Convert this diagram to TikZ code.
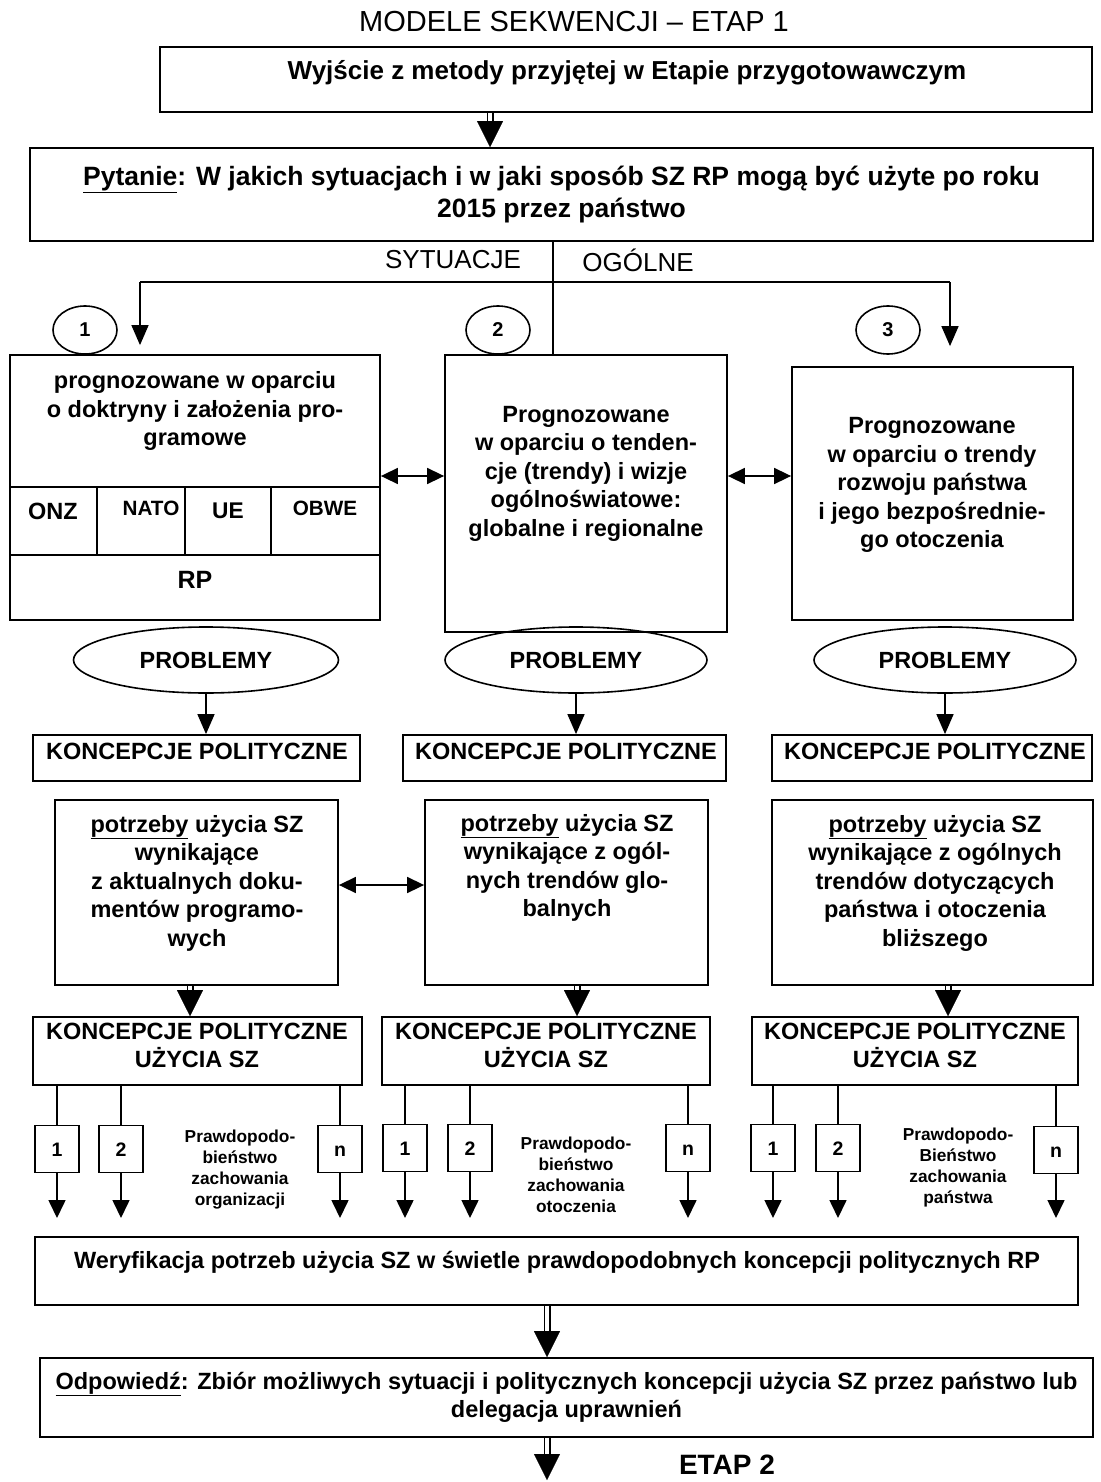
\documentclass[tikz,border=0pt]{standalone}
\usepackage{fontspec}
\setmainfont{Liberation Sans}
\usetikzlibrary{arrows.meta,shapes.geometric,calc}
\newcommand\fs[2]{\fontsize{#1}{#2}\selectfont}
\newcommand\dblarrow[2]{%
  \draw[line width=1.5pt, double, double distance=4pt] (#1) -- ($(#2)+(0,-22)$);
  \draw[-{Triangle[length=26pt,width=26pt]}, line width=0.1pt] ($(#2)+(0,-26)$) -- (#2);
}
\begin{document}
\begin{tikzpicture}[x=1pt,y=-1pt,
  box/.style={draw, line width=1.8pt, inner sep=0pt, anchor=center},
  txt/.style={align=center, inner sep=0pt, font=\bfseries\fs{23.5}{28.5}},
  ln/.style={line width=1.6pt},
  arr/.style={line width=1.6pt, -{Triangle[length=20pt,width=17pt]}},
  arrs/.style={line width=1.6pt, -{Triangle[length=18pt,width=17pt]}},
  lr/.style={line width=1.6pt, {Triangle[length=17pt,width=16pt]}-{Triangle[length=17pt,width=16pt]}},
  sbox/.style={draw, line width=1.6pt, inner sep=0pt, minimum width=44, minimum height=47, text height=14pt, text depth=0pt, font=\bfseries\fs{19.5}{20}},
  ell/.style={draw, ellipse, line width=1.6pt, inner sep=0pt},
  prob/.style={align=center, inner sep=0pt, font=\bfseries\fs{17.3}{21}}
]
\useasboundingbox (0,0) rectangle (1100,1482);
\fill[white] (0,0) rectangle (1100,1482);

% title
\node[font=\fs{29}{34}] (title) at (574,22) {MODELE SEKWENCJI – ETAP 1};

% top box
\node[box, minimum width=932, minimum height=65] (A) at (626,79.5) {};
\node[txt, font=\bfseries\fs{26}{30}] (At) at (627,73) {Wyjście z metody przyjętej w Etapie przygotowawczym};

\node[box, txt, font=\bfseries\fs{26.5}{32}, minimum width=1063, minimum height=93] (B) at (561.5,194.5)
  {\underline{Pytanie}: W jakich sytuacjach i w jaki sposób SZ RP mogą być użyte po roku\\2015 przez państwo};

\coordinate (xa) at (490,0);
\dblarrow{A.south -| xa}{B.north -| xa}

\node[font=\fs{26}{30}] (syt) at (453,260) {SYTUACJE};
\node[font=\fs{26}{30}] (og) at (638,260) {OGÓLNE};

% three forecast boxes
\node[box, minimum width=370, minimum height=265] (P1) at (195,487.5) {};
\node[box, minimum width=282, minimum height=277] (P2) at (586,493.5) {};
\node[box, minimum width=281, minimum height=253] (P3) at (932.5,493.5) {};

\coordinate (hub) at (553,282);
\coordinate (hl) at (140,282);
\coordinate (hr) at (950,282);
\draw[ln] (B.south -| hub) -- (P2.north -| hub);
\draw[ln] (hl) -- (hr);
\draw[arr, shorten >=9pt] (hl) -- (P1.north -| hl);
\draw[arr, shorten >=20pt] (hr) -- (P3.north -| hr);

\node[ell, minimum width=64, minimum height=48, font=\bfseries\fs{20}{22}] (c1) at (85,330) {1};
\node[ell, minimum width=64, minimum height=48, font=\bfseries\fs{20}{22}] (c2) at (498,330) {2};
\node[ell, minimum width=64, minimum height=48, font=\bfseries\fs{20}{22}] (c3) at (888,330) {3};

% box 1 content
\coordinate (r1) at (0,487);
\coordinate (r2) at (0,555);
\coordinate (v1) at (97,0);
\coordinate (v2) at (185,0);
\coordinate (v3) at (271,0);
\draw[ln] (P1.west |- r1) -- (P1.east |- r1);
\draw[ln] (P1.west |- r2) -- (P1.east |- r2);
\draw[ln] (v1 |- r1) -- (v1 |- r2);
\draw[ln] (v2 |- r1) -- (v2 |- r2);
\draw[ln] (v3 |- r1) -- (v3 |- r2);
\node[txt] (P1t) at (195,411) {prognozowane w oparciu\\o doktryny i założenia pro-\\gramowe};
\node[font=\bfseries\fs{23.5}{24}] (onz) at (53,511) {ONZ};
\node[font=\bfseries\fs{20.7}{22}] (nato) at (151,508) {NATO};
\node[font=\bfseries\fs{22.7}{24}] (ue) at (228,511) {UE};
\node[font=\bfseries\fs{20.7}{22}] (obwe) at (325,508) {OBWE};
\node[font=\bfseries\fs{25}{28}] (rp) at (195,580) {RP};

\node[txt] (P2t) at (586,473.5) {Prognozowane\\w oparciu o tenden-\\cje (trendy) i wizje\\ogólnoświatowe:\\globalne i regionalne};
\node[txt] (P3t) at (932,485) {Prognozowane\\w oparciu o trendy\\rozwoju państwa\\i jego bezpośrednie-\\go otoczenia};

\coordinate (y476) at (0,476);
\draw[lr] (P1.east |- y476) -- (P2.west |- y476);
\draw[lr] (P2.east |- y476) -- (P3.west |- y476);

% problems
\node[ell, minimum width=265, minimum height=66, font=\bfseries\fs{23.4}{24}] (E1) at (206,660) {PROBLEMY};
\node[ell, minimum width=262, minimum height=66, font=\bfseries\fs{23.4}{24}] (E2) at (576,660) {PROBLEMY};
\node[ell, minimum width=262, minimum height=66, font=\bfseries\fs{23.4}{24}] (E3) at (945,660) {PROBLEMY};

\node[box, minimum width=327, minimum height=46] (K1) at (196.5,758) {};
\node[box, minimum width=323, minimum height=46] (K2) at (564.5,758) {};
\node[box, minimum width=320, minimum height=46] (K3) at (932,758) {};
\node[txt] (K1t) at (197,751) {KONCEPCJE POLITYCZNE};
\node[txt] (K2t) at (566,751) {KONCEPCJE POLITYCZNE};
\node[txt] (K3t) at (935,751) {KONCEPCJE POLITYCZNE};

\draw[arr] (E1.south) -- (K1.north -| E1.south);
\draw[arr] (E2.south) -- (K2.north -| E2.south);
\draw[arr] (E3.south) -- (K3.north -| E3.south);

% needs
\node[box, minimum width=283, minimum height=185] (N1) at (196.5,892.5) {};
\node[box, minimum width=283, minimum height=185] (N2) at (566.5,892.5) {};
\node[box, minimum width=321, minimum height=185] (N3) at (932.5,892.5) {};
\node[txt] (N1t) at (197,883) {\underline{potrzeby} użycia SZ\\wynikające\\z aktualnych doku-\\mentów programo-\\wych};
\node[txt] (N2t) at (567,868) {\underline{potrzeby} użycia SZ\\wynikające z ogól-\\nych trendów glo-\\balnych};
\node[txt] (N3t) at (935,883) {\underline{potrzeby} użycia SZ\\wynikające z ogólnych\\trendów dotyczących\\państwa i otoczenia\\bliższego};

\coordinate (y885) at (0,885);
\draw[lr] (N1.east |- y885) -- (N2.west |- y885);

% political concepts of use
\node[box, minimum width=329, minimum height=68] (U1) at (197.5,1051) {};
\node[box, minimum width=328, minimum height=68] (U2) at (546,1051) {};
\node[box, minimum width=326, minimum height=68] (U3) at (915,1051) {};
\node[txt] (U1t) at (197,1045.5) {KONCEPCJE POLITYCZNE\\UŻYCIA SZ};
\node[txt] (U2t) at (546,1045.5) {KONCEPCJE POLITYCZNE\\UŻYCIA SZ};
\node[txt] (U3t) at (915,1045.5) {KONCEPCJE POLITYCZNE\\UŻYCIA SZ};

\coordinate (xn1) at (190,0);
\coordinate (xn2) at (577,0);
\coordinate (xn3) at (948,0);
\dblarrow{N1.south -| xn1}{U1.north -| xn1}
\dblarrow{N2.south -| xn2}{U2.north -| xn2}
\dblarrow{N3.south -| xn3}{U3.north -| xn3}

% small boxes
\node[sbox] (s11) at (57,1149) {1};
\node[sbox] (s12) at (121,1149) {2};
\node[sbox] (s1n) at (340,1149) {n};
\node[sbox] (s21) at (405,1148) {1};
\node[sbox] (s22) at (470,1148) {2};
\node[sbox] (s2n) at (688,1148) {n};
\node[sbox] (s31) at (773,1148) {1};
\node[sbox] (s32) at (838,1148) {2};
\node[sbox] (s3n) at (1056,1150) {n};

\foreach \s/\u in {s11/U1,s12/U1,s1n/U1,s21/U2,s22/U2,s2n/U2,s31/U3,s32/U3,s3n/U3}{
  \draw[ln] (\u.south -| \s.north) -- (\s.north);
}
\coordinate (yend) at (0,1218);
\foreach \s in {s11,s12,s1n,s21,s22,s2n,s31,s32,s3n}{
  \draw[arrs] (\s.south) -- (\s.south |- yend);
}

\node[prob] (pr1) at (240,1170) {Prawdopodo-\\bieństwo\\zachowania\\organizacji};
\node[prob] (pr2) at (576,1175) {Prawdopodo-\\bieństwo\\zachowania\\otoczenia};
\node[prob] (pr3) at (958,1168) {Prawdopodo-\\Bieństwo\\zachowania\\państwa};

% verification
\node[box, minimum width=1043, minimum height=68] (W) at (556.5,1271) {};
\node[txt] (Wt) at (557,1262) {Weryfikacja potrzeb użycia SZ w świetle prawdopodobnych koncepcji politycznych RP};

\node[box, txt, minimum width=1053, minimum height=79] (O) at (566.5,1397.5)
  {\underline{Odpowiedź}: Zbiór możliwych sytuacji i politycznych koncepcji użycia SZ przez państwo lub\\delegacja uprawnień};

\coordinate (xw) at (547,0);
\coordinate (bend) at (547,1480);
\dblarrow{W.south -| xw}{O.north -| xw}
\dblarrow{O.south -| xw}{bend}

\node[font=\bfseries\fs{28}{30}] (etap) at (727,1465) {ETAP 2};
\end{tikzpicture}
\end{document}
